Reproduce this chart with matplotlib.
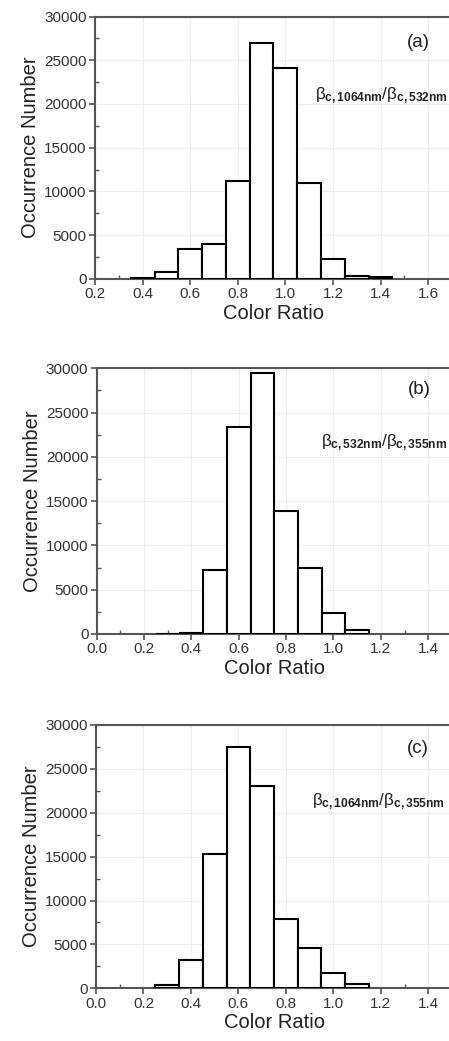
import numpy as np
import matplotlib.pyplot as plt
from matplotlib.ticker import MultipleLocator

plt.rcParams['font.family'] = ['Liberation Sans', 'DejaVu Sans']
plt.rcParams['mathtext.fontset'] = 'custom'
plt.rcParams['mathtext.rm'] = 'Liberation Sans'
plt.rcParams['mathtext.it'] = 'Liberation Sans'
plt.rcParams['mathtext.bf'] = 'Liberation Sans:bold'

# bin centres (width 0.1) and counts
centers_a = [0.4, 0.5, 0.6, 0.7, 0.8, 0.9, 1.0, 1.1, 1.2, 1.3, 1.4]
counts_a = [80, 730, 3360, 4010, 11150, 27020, 24160, 10920, 2290, 340, 150]

centers_b = [0.3, 0.4, 0.5, 0.6, 0.7, 0.8, 0.9, 1.0, 1.1]
counts_b = [40, 150, 7190, 23400, 29500, 13890, 7490, 2410, 450]

centers_c = [0.3, 0.4, 0.5, 0.6, 0.7, 0.8, 0.9, 1.0, 1.1]
counts_c = [340, 3230, 15340, 27530, 23050, 7940, 4630, 1750, 490]

labels = ["(a)", "(b)", "(c)"]
ratios = [r"$\beta_{\mathbf{c,1064nm}}/\beta_{\mathbf{c,532nm}}$",
          r"$\beta_{\mathbf{c,532nm}}/\beta_{\mathbf{c,355nm}}$",
          r"$\beta_{\mathbf{c,1064nm}}/\beta_{\mathbf{c,355nm}}$"]

fig = plt.figure(figsize=(4.49, 10.41), dpi=100)

panels = [
    # rect, centers, counts, xlim, label pos, ratio pos
    ([0.2116, 0.7323, 0.795, 0.2517], centers_a, counts_a, (0.2, 1.7), (0.905, 0.90), (0.615, 0.70)),
    ([0.2154, 0.3910, 0.791, 0.2552], centers_b, counts_b, (0.0, 1.5), (0.908, 0.92), (0.632, 0.72)),
    ([0.2138, 0.0506, 0.793, 0.2530], centers_c, counts_c, (0.0, 1.5), (0.904, 0.91), (0.607, 0.71)),
]

spine_col = "#555555"
for i, (rect, cen, cnt, xlim, lpos, rpos) in enumerate(panels):
    ax = fig.add_axes(rect)
    ax.bar(cen, cnt, width=0.1, color="white", edgecolor="black", linewidth=1.5, zorder=3)
    ax.set_xlim(*xlim)
    ax.set_ylim(0, 30000)
    ax.xaxis.set_major_locator(MultipleLocator(0.2))
    ax.xaxis.set_minor_locator(MultipleLocator(0.1))
    ax.yaxis.set_major_locator(MultipleLocator(5000))
    ax.yaxis.set_minor_locator(MultipleLocator(2500))
    ax.xaxis.set_major_formatter(plt.FormatStrFormatter("%.1f"))
    ax.grid(True, which="major", color="#efefef", linewidth=0.8, zorder=0)
    for s in ax.spines.values():
        s.set_color(spine_col)
        s.set_linewidth(1.5)
    ax.tick_params(which="major", direction="out", length=4, width=1.2, color=spine_col,
                   labelsize=11, labelcolor="#333333", pad=2)
    ax.tick_params(which="minor", direction="in", length=3, width=1.0, color=spine_col)
    ax.set_xlabel("Color Ratio", fontsize=14.5, labelpad=2, color="#222222")
    ax.set_ylabel("Occurrence Number", fontsize=14.5, labelpad=3, color="#222222")
    ax.text(lpos[0], lpos[1], labels[i], transform=ax.transAxes, fontsize=13.5,
            ha="center", va="center", color="#222222")
    ax.text(rpos[0], rpos[1], ratios[i], transform=ax.transAxes, fontsize=12.3,
            ha="left", va="center", color="#222222")

fig.savefig("out.png", dpi=100)
